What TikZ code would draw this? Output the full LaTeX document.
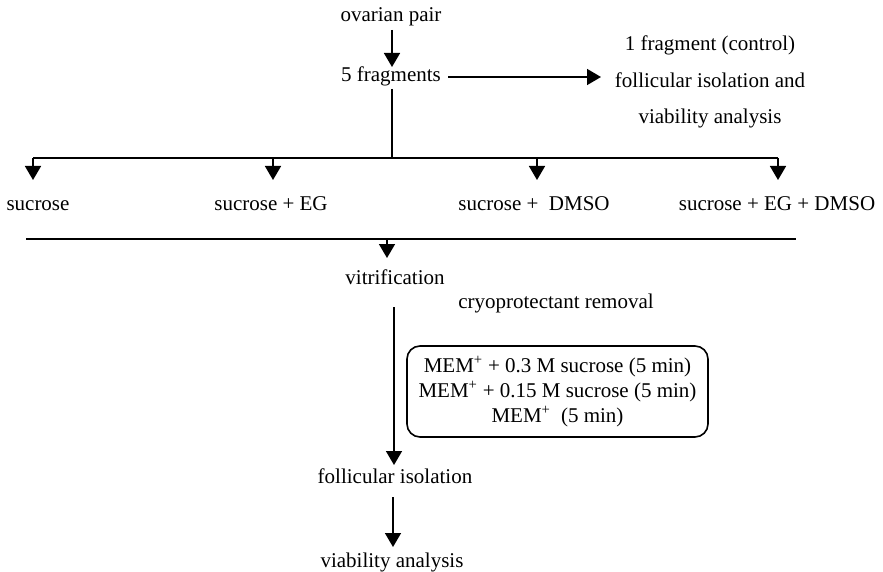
\documentclass[tikz,border=0pt]{standalone}
\usepackage{fontspec}
\setmainfont{Liberation Serif}
\usetikzlibrary{arrows.meta}
\begin{document}
\begin{tikzpicture}[x=1pt,y=-1pt,
  every node/.style={font=\fontsize{21}{25}\selectfont, inner sep=0pt, anchor=base},
  flow/.style={line width=1.6pt},
  arr/.style={flow, -{Triangle[width=16pt,length=14pt]}},
  stepsbox/.style={draw, line width=1.6pt, rounded corners=13pt, anchor=center,
    minimum width=301pt, minimum height=91pt, align=center,
    font=\fontsize{21}{25}\selectfont},
  sidetext/.style={align=center, anchor=center, font=\fontsize{21}{36.5}\selectfont}]
  % canvas
  \fill[white] (0,0) rectangle (883,572);
  \useasboundingbox (0,0) rectangle (883,572);

  % main column
  \node (ovary) at (391,22) {ovarian pair};
  \node (frag)  at (391,82) {5 fragments};
  \node[sidetext] (ctrl) at (710,82) {1 fragment (control)\\follicular isolation and\\viability analysis};

  % the four solutions
  \node (s1) at (38,211)  {sucrose};
  \node (s2) at (271,211) {sucrose + EG};
  \node (s3) at (534,211) {sucrose +\ \ DMSO};
  \node (s4) at (777,211) {sucrose + EG + DMSO};

  \node (vit)  at (395,284) {vitrification};
  \node (crem) at (556,308) {cryoprotectant removal};
  \node[stepsbox] (steps) at (557.5,391.5)
    {MEM\textsuperscript{+} + 0.3 M sucrose (5 min)\\
     MEM\textsuperscript{+} + 0.15 M sucrose (5 min)\\
     MEM\textsuperscript{+}\ \ (5 min)};
  \node (fol) at (395,483) {follicular isolation};
  \node (via) at (392,567) {viability analysis};

  % connector end points
  \coordinate (a0) at (392,30);
  \coordinate (a1) at (392,67);
  \coordinate (h0) at (448,77);
  \coordinate (h1) at (601,77);
  \coordinate (d0) at (392,89);
  \coordinate (bl) at (33,158);
  \coordinate (br) at (778,158);
  \coordinate (bm) at (392,158);
  \coordinate (t1) at (33,180);
  \coordinate (b2) at (273,158);
  \coordinate (t2) at (273,180);
  \coordinate (b3) at (537,158);
  \coordinate (t3) at (537,180);
  \coordinate (t4) at (778,180);
  \coordinate (jl) at (26,239);
  \coordinate (jr) at (796,239);
  \coordinate (jm) at (387,239);
  \coordinate (jt) at (387,258);
  \coordinate (v0) at (394,307);
  \coordinate (v1) at (394,465);
  \coordinate (f0) at (393,497);
  \coordinate (f1) at (393,547);

  % connectors
  \draw[arr] (a0) -- (a1);
  \draw[arr] (h0) -- (h1);
  \draw[flow] (d0) -- (bm);
  \draw[flow] (bl) -- (br);
  \draw[arr] (bl) -- (t1);
  \draw[arr] (b2) -- (t2);
  \draw[arr] (b3) -- (t3);
  \draw[arr] (br) -- (t4);
  \draw[flow] (jl) -- (jr);
  \draw[arr] (jm) -- (jt);
  \draw[arr] (v0) -- (v1);
  \draw[arr] (f0) -- (f1);
\end{tikzpicture}
\end{document}
